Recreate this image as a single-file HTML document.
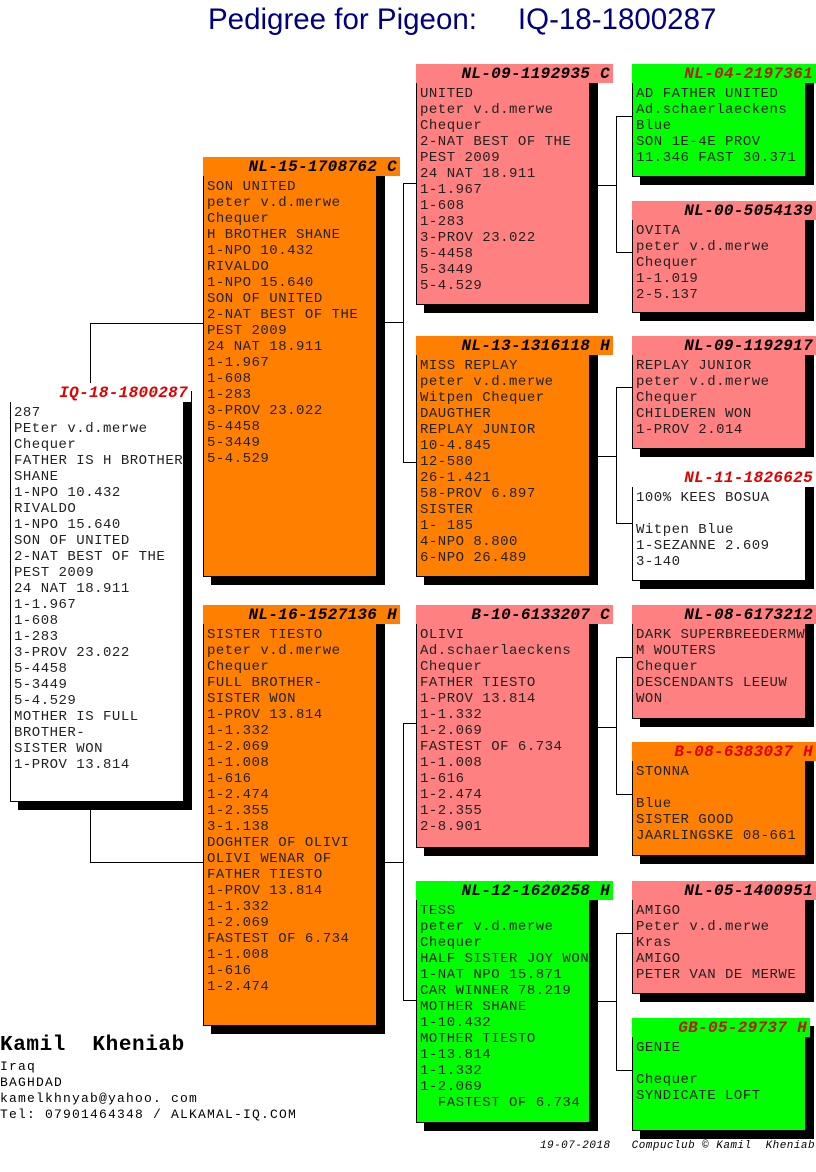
<!DOCTYPE html>
<html><head><meta charset="utf-8"><style>
body{margin:0;width:816px;height:1172px;background:#fff;position:relative;overflow:hidden;font-family:"Liberation Mono",monospace;}
.b{position:absolute;border:1px solid #000;box-sizing:border-box;box-shadow:8px 8px 0 #000;}
.h{position:absolute;top:-1px;left:-1px;height:19px;background:inherit;text-align:right;font:italic bold 16px/20px "Liberation Mono",monospace;letter-spacing:0.3px;padding-right:3px;box-sizing:border-box;color:#000;white-space:nowrap}
.t{position:absolute;top:21px;left:3px;font-size:14px;line-height:16px;letter-spacing:0.5px;color:#222;background:inherit;white-space:pre}
.t div{display:table;background:inherit;height:16px}
.l{position:absolute;background:#000}
.o{background:#ff8000}.p{background:#ff8080}.g{background:#00ff00}.w{background:#fff}
.r{color:#e00000}.dr{color:#b02000}
</style></head><body>
<div style="position:absolute;left:208px;top:3px;font:29.5px 'Liberation Sans',sans-serif;color:#000080;white-space:pre">Pedigree for Pigeon:     IQ-18-1800287</div>

<!-- connectors -->
<div class="l" style="left:90px;top:323px;width:1px;height:60px"></div>
<div class="l" style="left:90px;top:323px;width:113px;height:1px"></div>
<div class="l" style="left:90px;top:802px;width:1px;height:60px"></div>
<div class="l" style="left:90px;top:862px;width:113px;height:1px"></div>

<div class="l" style="left:376px;top:322px;width:27px;height:1px"></div>
<div class="l" style="left:403px;top:183px;width:1px;height:280px"></div>
<div class="l" style="left:403px;top:183px;width:13px;height:1px"></div>
<div class="l" style="left:403px;top:462px;width:13px;height:1px"></div>

<div class="l" style="left:376px;top:862px;width:27px;height:1px"></div>
<div class="l" style="left:403px;top:723px;width:1px;height:278px"></div>
<div class="l" style="left:403px;top:723px;width:13px;height:1px"></div>
<div class="l" style="left:403px;top:1000px;width:13px;height:1px"></div>

<div class="l" style="left:590px;top:185px;width:26px;height:1px"></div>
<div class="l" style="left:616px;top:116px;width:1px;height:137px"></div>
<div class="l" style="left:616px;top:116px;width:16px;height:1px"></div>
<div class="l" style="left:616px;top:252px;width:16px;height:1px"></div>

<div class="l" style="left:590px;top:456px;width:26px;height:1px"></div>
<div class="l" style="left:616px;top:387px;width:1px;height:137px"></div>
<div class="l" style="left:616px;top:387px;width:16px;height:1px"></div>
<div class="l" style="left:616px;top:523px;width:16px;height:1px"></div>

<div class="l" style="left:590px;top:727px;width:26px;height:1px"></div>
<div class="l" style="left:616px;top:657px;width:1px;height:138px"></div>
<div class="l" style="left:616px;top:657px;width:16px;height:1px"></div>
<div class="l" style="left:616px;top:794px;width:16px;height:1px"></div>

<div class="l" style="left:590px;top:1001px;width:26px;height:1px"></div>
<div class="l" style="left:616px;top:933px;width:1px;height:138px"></div>
<div class="l" style="left:616px;top:933px;width:16px;height:1px"></div>
<div class="l" style="left:616px;top:1070px;width:16px;height:1px"></div>

<!-- root -->
<div class="b w" style="left:10px;top:383px;width:174px;height:419px">
<div class="h r" style="width:181px">IQ-18-1800287</div>
<div class="t"><div>287</div><div>PEter v.d.merwe</div><div>Chequer</div><div>FATHER IS H BROTHER</div><div>SHANE</div><div>1-NPO 10.432</div><div>RIVALDO</div><div>1-NPO 15.640</div><div>SON OF UNITED</div><div>2-NAT BEST OF THE</div><div>PEST 2009</div><div>24 NAT 18.911</div><div>1-1.967</div><div>1-608</div><div>1-283</div><div>3-PROV 23.022</div><div>5-4458</div><div>5-3449</div><div>5-4.529</div><div>MOTHER IS FULL</div><div>BROTHER-</div><div>SISTER WON</div><div>1-PROV 13.814</div></div></div>

<!-- gen1 -->
<div class="b o" style="left:203px;top:157px;width:174px;height:420px">
<div class="h" style="width:197px">NL-15-1708762 C</div>
<div class="t"><div>SON UNITED</div><div>peter v.d.merwe</div><div>Chequer</div><div>H BROTHER SHANE</div><div>1-NPO 10.432</div><div>RIVALDO</div><div>1-NPO 15.640</div><div>SON OF UNITED</div><div>2-NAT BEST OF THE</div><div>PEST 2009</div><div>24 NAT 18.911</div><div>1-1.967</div><div>1-608</div><div>1-283</div><div>3-PROV 23.022</div><div>5-4458</div><div>5-3449</div><div>5-4.529</div></div></div>

<div class="b o" style="left:203px;top:605px;width:174px;height:421px">
<div class="h" style="width:197px">NL-16-1527136 H</div>
<div class="t"><div>SISTER TIESTO</div><div>peter v.d.merwe</div><div>Chequer</div><div>FULL BROTHER-</div><div>SISTER WON</div><div>1-PROV 13.814</div><div>1-1.332</div><div>1-2.069</div><div>1-1.008</div><div>1-616</div><div>1-2.474</div><div>1-2.355</div><div>3-1.138</div><div>DOGHTER OF OLIVI</div><div>OLIVI WENAR OF</div><div>FATHER TIESTO</div><div>1-PROV 13.814</div><div>1-1.332</div><div>1-2.069</div><div>FASTEST OF 6.734</div><div>1-1.008</div><div>1-616</div><div>1-2.474</div></div></div>

<!-- gen2 -->
<div class="b p" style="left:416px;top:64px;width:174px;height:241px">
<div class="h" style="width:197px">NL-09-1192935 C</div>
<div class="t"><div>UNITED</div><div>peter v.d.merwe</div><div>Chequer</div><div>2-NAT BEST OF THE</div><div>PEST 2009</div><div>24 NAT 18.911</div><div>1-1.967</div><div>1-608</div><div>1-283</div><div>3-PROV 23.022</div><div>5-4458</div><div>5-3449</div><div>5-4.529</div></div></div>

<div class="b o" style="left:416px;top:336px;width:174px;height:241px">
<div class="h" style="width:197px">NL-13-1316118 H</div>
<div class="t"><div>MISS REPLAY</div><div>peter v.d.merwe</div><div>Witpen Chequer</div><div>DAUGTHER</div><div>REPLAY JUNIOR</div><div>10-4.845</div><div>12-580</div><div>26-1.421</div><div>58-PROV 6.897</div><div>SISTER</div><div>1- 185</div><div>4-NPO 8.800</div><div>6-NPO 26.489</div></div></div>

<div class="b p" style="left:416px;top:605px;width:174px;height:243px">
<div class="h" style="width:197px">B-10-6133207 C</div>
<div class="t"><div>OLIVI</div><div>Ad.schaerlaeckens</div><div>Chequer</div><div>FATHER TIESTO</div><div>1-PROV 13.814</div><div>1-1.332</div><div>1-2.069</div><div>FASTEST OF 6.734</div><div>1-1.008</div><div>1-616</div><div>1-2.474</div><div>1-2.355</div><div>2-8.901</div></div></div>

<div class="b g" style="left:416px;top:881px;width:174px;height:242px">
<div class="h" style="width:197px">NL-12-1620258 H</div>
<div class="t"><div>TESS</div><div>peter v.d.merwe</div><div>Chequer</div><div>HALF SISTER JOY WON</div><div>1-NAT NPO 15.871</div><div>CAR WINNER 78.219</div><div>MOTHER SHANE</div><div>1-10.432</div><div>MOTHER TIESTO</div><div>1-13.814</div><div>1-1.332</div><div>1-2.069</div><div>  FASTEST OF 6.734</div></div></div>

<!-- gen3 -->
<div class="b g" style="left:632px;top:64px;width:174px;height:113px">
<div class="h dr" style="width:184px">NL-04-2197361</div>
<div class="t"><div>AD FATHER UNITED</div><div>Ad.schaerlaeckens</div><div>Blue</div><div>SON 1E-4E PROV</div><div>11.346 FAST 30.371</div></div></div>

<div class="b p" style="left:632px;top:201px;width:174px;height:112px">
<div class="h" style="width:184px">NL-00-5054139</div>
<div class="t"><div>OVITA</div><div>peter v.d.merwe</div><div>Chequer</div><div>1-1.019</div><div>2-5.137</div></div></div>

<div class="b p" style="left:632px;top:336px;width:174px;height:113px">
<div class="h" style="width:184px">NL-09-1192917</div>
<div class="t"><div>REPLAY JUNIOR</div><div>peter v.d.merwe</div><div>Chequer</div><div>CHILDEREN WON</div><div>1-PROV 2.014</div></div></div>

<div class="b w" style="left:632px;top:468px;width:174px;height:113px">
<div class="h r" style="width:184px">NL-11-1826625</div>
<div class="t"><div>100% KEES BOSUA</div><div> </div><div>Witpen Blue</div><div>1-SEZANNE 2.609</div><div>3-140</div></div></div>

<div class="b p" style="left:632px;top:605px;width:174px;height:114px">
<div class="h" style="width:184px">NL-08-6173212</div>
<div class="t"><div>DARK SUPERBREEDERMW</div><div>M WOUTERS</div><div>Chequer</div><div>DESCENDANTS LEEUW</div><div>WON</div></div></div>

<div class="b o" style="left:632px;top:742px;width:174px;height:114px">
<div class="h r" style="width:184px">B-08-6383037 H</div>
<div class="t"><div>STONNA</div><div> </div><div>Blue</div><div>SISTER GOOD</div><div>JAARLINGSKE 08-661</div></div></div>

<div class="b p" style="left:632px;top:881px;width:174px;height:113px">
<div class="h" style="width:184px">NL-05-1400951</div>
<div class="t"><div>AMIGO</div><div>Peter v.d.merwe</div><div>Kras</div><div>AMIGO</div><div>PETER VAN DE MERWE</div></div></div>

<div class="b g" style="left:632px;top:1018px;width:174px;height:113px">
<div class="h dr" style="width:178px">GB-05-29737 H</div>
<div class="t"><div>GENIE</div><div> </div><div>Chequer</div><div>SYNDICATE LOFT</div></div></div>

<!-- footer -->
<div style="position:absolute;left:0;top:1034px;font:bold 21px 'Liberation Mono',monospace;letter-spacing:0.6px;white-space:pre;color:#000">Kamil  Kheniab</div>
<div style="position:absolute;left:0;top:1059px;font:13px/16px 'Liberation Mono',monospace;letter-spacing:1.2px;white-space:pre;color:#000">Iraq
BAGHDAD
kamelkhnyab@yahoo. com
Tel: 07901464348 / ALKAMAL-IQ.COM</div>
<div style="position:absolute;left:540px;top:1140px;font:italic 11px 'Liberation Mono',monospace;letter-spacing:0.45px;white-space:pre;color:#000">19-07-2018   Compuclub © Kamil  Kheniab</div>
</body></html>
